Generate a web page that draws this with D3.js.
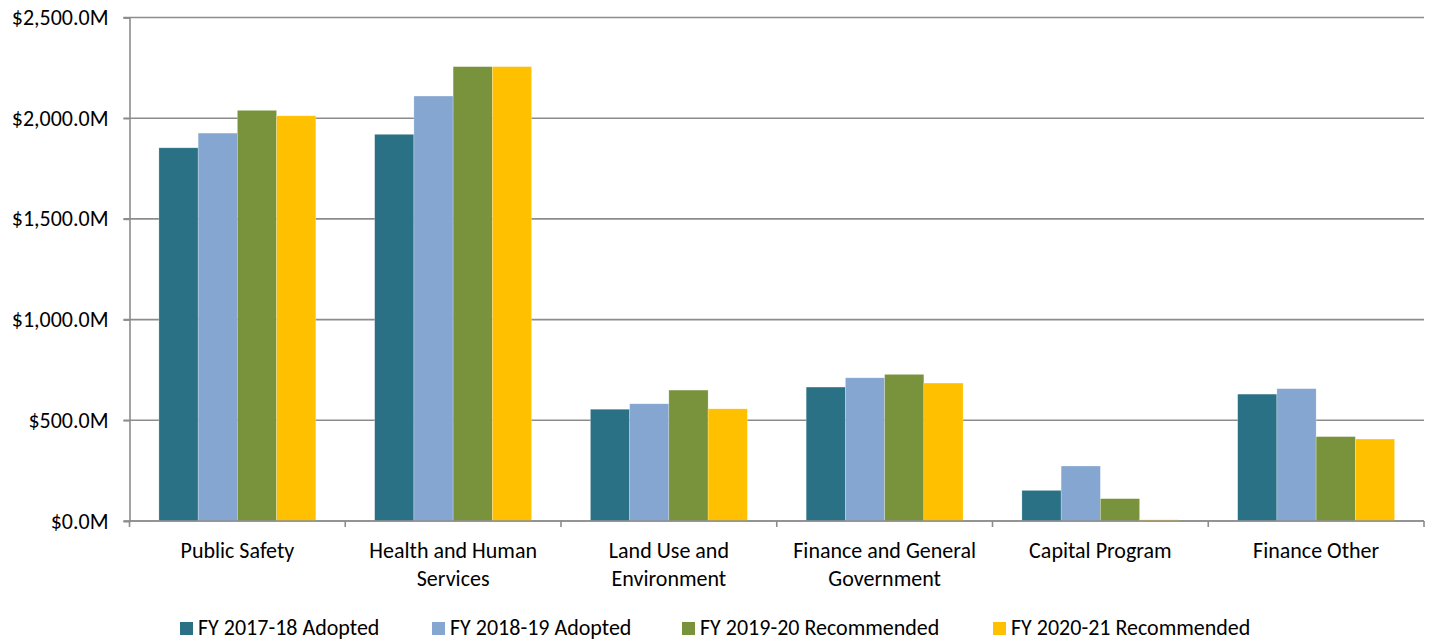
<!DOCTYPE html>
<html>
<head>
<meta charset="utf-8">
<script src="https://cdn.jsdelivr.net/npm/d3@7/dist/d3.min.js"></script>
<style>
  html, body { margin: 0; padding: 0; background: #ffffff; }
  svg { display: block; }
  text { font-family: Calibri, Carlito, "Open Sans", sans-serif; fill: #000; }
</style>
</head>
<body>
<svg id="chart" width="1430" height="642"></svg>
<script>
// Budget by program area, in millions of dollars
const categories = [
  ["Public Safety"],
  ["Health and Human", "Services"],
  ["Land Use and", "Environment"],
  ["Finance and General", "Government"],
  ["Capital Program"],
  ["Finance Other"]
];
const seriesNames = ["FY 2017-18 Adopted", "FY 2018-19 Adopted", "FY 2019-20 Recommended", "FY 2020-21 Recommended"];
const seriesColors = ["#2a7185", "#84a6d0", "#78933c", "#ffc000"];
const fy1718 = [1853, 1920, 555, 665, 152, 630];
const fy1819 = [1926, 2110, 582, 711, 273, 657];
const fy1920 = [2039, 2256, 650, 728, 111, 419];
const fy2021 = [2012, 2256, 557, 685, 6, 407];
const seriesValues = [fy1718, fy1819, fy1920, fy2021];
const yTicks = [0, 500, 1000, 1500, 2000, 2500];

const svg = d3.select("#chart");
const plotLeft = 129.5, plotRight = 1424, plotTop = 17.5, plotBottom = 521;
const fontSize = 22;

const x0 = d3.scaleBand()
  .domain(d3.range(categories.length))
  .range([plotLeft, plotRight])
  .paddingInner(0)
  .paddingOuter(0);

// bars fill 4 of 5.5 bar widths in each category
const x1 = d3.scaleBand()
  .domain(d3.range(seriesNames.length))
  .range([0, x0.bandwidth()])
  .paddingInner(0)
  .paddingOuter(0.75);

const y = d3.scaleLinear().domain([0, 2500]).range([plotBottom, plotTop]);

const gridColor = "#8c8c8c";

// horizontal gridlines
svg.append("g")
  .selectAll("line")
  .data(yTicks)
  .join("line")
  .attr("x1", plotLeft - 6)
  .attr("x2", plotRight)
  .attr("y1", d => y(d))
  .attr("y2", d => y(d))
  .attr("stroke", gridColor)
  .attr("stroke-width", 1.6);

// bars
const groups = svg.append("g")
  .selectAll("g")
  .data(categories.map((c, i) => i))
  .join("g")
  .attr("transform", i => `translate(${x0(i)},0)`);

groups.selectAll("rect")
  .data(i => seriesValues.map((vals, s) => ({ s, v: vals[i] })))
  .join("rect")
  .attr("x", d => x1(d.s))
  .attr("width", x1.bandwidth())
  .attr("y", d => y(d.v))
  .attr("height", d => y(0) - y(d.v))
  .attr("fill", d => seriesColors[d.s])
  .attr("stroke", "rgba(255,255,255,0.4)")
  .attr("stroke-width", 0.6);

// y axis
const yAxis = d3.axisLeft(y)
  .tickValues(yTicks)
  .tickSize(6)
  .tickPadding(15)
  .tickFormat(d => "$" + d3.format(",.1f")(d) + "M");

const gy = svg.append("g")
  .attr("transform", `translate(${plotLeft},0)`)
  .call(yAxis);
gy.select(".domain").attr("stroke", gridColor).attr("stroke-width", 1.6);
gy.selectAll(".tick line").attr("stroke", gridColor).attr("stroke-width", 1.6);
gy.selectAll(".tick text")
  .attr("font-size", fontSize)
  .attr("font-family", "Calibri, Carlito, 'Open Sans', sans-serif")
  .attr("fill", "#000");

// x axis baseline and category boundary ticks
const boundaries = d3.range(categories.length + 1).map(i => plotLeft + i * x0.bandwidth());
svg.append("line")
  .attr("x1", plotLeft).attr("x2", plotRight)
  .attr("y1", plotBottom).attr("y2", plotBottom)
  .attr("stroke", gridColor).attr("stroke-width", 1.6);
svg.append("g")
  .selectAll("line")
  .data(boundaries)
  .join("line")
  .attr("x1", d => d).attr("x2", d => d)
  .attr("y1", plotBottom).attr("y2", plotBottom + 6)
  .attr("stroke", gridColor).attr("stroke-width", 1.6);

// category labels
const labels = svg.append("g")
  .selectAll("text")
  .data(categories.map((c, i) => ({ c, i })))
  .join("text")
  .attr("text-anchor", "middle")
  .attr("font-size", fontSize)
  .attr("x", d => x0(d.i) + x0.bandwidth() / 2)
  .attr("y", 558);
labels.selectAll("tspan")
  .data(d => d.c.map((line, k) => ({ line, k, x: x0(d.i) + x0.bandwidth() / 2 })))
  .join("tspan")
  .attr("x", d => d.x)
  .attr("dy", d => d.k === 0 ? 0 : 27.5)
  .text(d => d.line);

// legend
const legendX = [180, 432, 682, 993];
const legend = svg.append("g")
  .selectAll("g")
  .data(seriesNames.map((n, i) => ({ n, i })))
  .join("g")
  .attr("transform", d => `translate(${legendX[d.i]},622)`);
legend.append("rect")
  .attr("width", 13).attr("height", 13)
  .attr("fill", d => seriesColors[d.i]);
legend.append("text")
  .attr("x", 18)
  .attr("y", 13)
  .attr("font-size", fontSize)
  .text(d => d.n);
</script>
</body>
</html>
